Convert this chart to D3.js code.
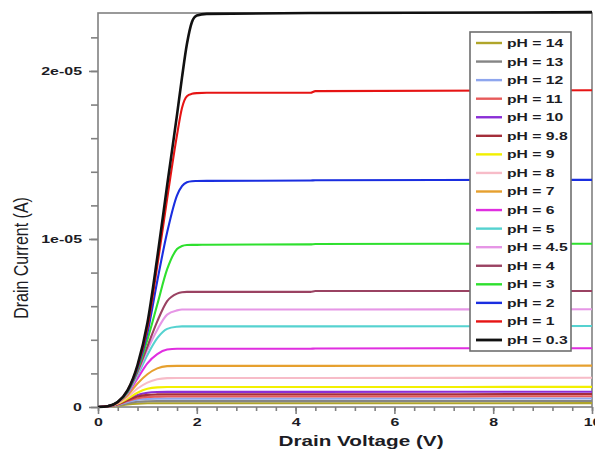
<!DOCTYPE html>
<html>
<head>
<meta charset="utf-8">
<script src="https://cdn.jsdelivr.net/npm/d3@7"></script>
<style>
  body { margin: 0; background: #fff; }
  svg { display: block; font-family: "Liberation Sans", Arial, sans-serif; }
</style>
</head>
<body>
<svg id="chart" width="595" height="452"></svg>
<script>
// drain voltage grid (V) the curves were read at
const vd = [0, 0.2, 0.4, 0.6, 0.8, 1.0, 1.2, 1.4, 1.6, 1.7, 1.8, 1.9, 2.0, 2.2, 4.3, 4.4, 10];

// legend order, top to bottom
const phLabels = ["14", "13", "12", "11", "10", "9.8", "9", "8", "7", "6", "5", "4.5", "4", "3", "2", "1", "0.3"];
const phColors = ["#b0a52a", "#858585", "#8ea6ee", "#e75a5a", "#8b2fd6", "#a42e3a", "#f2f000", "#f7bcc8", "#e6a02e",
                  "#e02ee0", "#55d2d0", "#e696e6", "#9a4262", "#2ee02e", "#1a2ee0", "#e61414", "#111111"];

// drain current, in uA, at each vd
const idPH14  = [0, 0.01, 0.07, 0.15, 0.2, 0.22, 0.22, 0.22, 0.22, 0.22, 0.22, 0.22, 0.22, 0.22, 0.22, 0.22, 0.23];
const idPH13  = [0, 0.02, 0.1, 0.22, 0.31, 0.34, 0.35, 0.35, 0.35, 0.35, 0.35, 0.35, 0.35, 0.35, 0.35, 0.35, 0.36];
const idPH12  = [0, 0.02, 0.12, 0.3, 0.43, 0.48, 0.5, 0.5, 0.5, 0.5, 0.5, 0.5, 0.5, 0.5, 0.5, 0.5, 0.51];
const idPH11  = [0, 0.03, 0.15, 0.35, 0.52, 0.6, 0.62, 0.63, 0.63, 0.63, 0.63, 0.63, 0.63, 0.63, 0.63, 0.63, 0.64];
const idPH10  = [0, 0.03, 0.18, 0.45, 0.72, 0.85, 0.89, 0.9, 0.9, 0.9, 0.9, 0.9, 0.9, 0.9, 0.9, 0.9, 0.91];
const idPH98  = [0, 0.03, 0.17, 0.4, 0.62, 0.72, 0.75, 0.76, 0.76, 0.76, 0.76, 0.76, 0.76, 0.76, 0.76, 0.76, 0.77];
const idPH9   = [0, 0.03, 0.2, 0.5, 0.85, 1.08, 1.17, 1.19, 1.19, 1.19, 1.19, 1.19, 1.19, 1.19, 1.19, 1.19, 1.2];
const idPH8   = [0, 0.04, 0.22, 0.6, 1.1, 1.45, 1.65, 1.72, 1.73, 1.73, 1.73, 1.73, 1.73, 1.73, 1.73, 1.73, 1.74];
const idPH7   = [0, 0.04, 0.25, 0.7, 1.4, 1.95, 2.3, 2.43, 2.45, 2.45, 2.45, 2.45, 2.45, 2.45, 2.45, 2.45, 2.46];
const idPH6   = [0, 0.04, 0.28, 0.8, 1.7, 2.6, 3.15, 3.42, 3.47, 3.47, 3.47, 3.47, 3.47, 3.47, 3.47, 3.48, 3.5];
const idPH5   = [0, 0.05, 0.3, 0.85, 1.9, 3.1, 4.1, 4.65, 4.78, 4.8, 4.8, 4.8, 4.8, 4.8, 4.8, 4.8, 4.82];
const idPH45  = [0, 0.05, 0.3, 0.85, 2.0, 3.4, 4.6, 5.5, 5.75, 5.8, 5.8, 5.8, 5.8, 5.8, 5.8, 5.8, 5.82];
const idPH4   = [0, 0.05, 0.3, 0.9, 2.1, 3.6, 5.1, 6.3, 6.75, 6.83, 6.85, 6.85, 6.85, 6.85, 6.85, 6.9, 6.9];
const idPH3   = [0, 0.05, 0.3, 0.9, 2.2, 4.0, 6.1, 8.2, 9.4, 9.58, 9.64, 9.65, 9.65, 9.66, 9.68, 9.7, 9.72];
const idPH2   = [0, 0.05, 0.3, 0.95, 2.3, 4.4, 7.5, 10.4, 12.6, 13.15, 13.38, 13.44, 13.45, 13.46, 13.48, 13.5, 13.52];
const idPH1   = [0, 0.05, 0.3, 1.0, 2.4, 4.7, 8.4, 12.4, 16.2, 17.8, 18.5, 18.64, 18.68, 18.7, 18.7, 18.8, 18.85];
const idPH03  = [0, 0.05, 0.3, 1.0, 2.5, 5.0, 8.9, 13.2, 17.4, 19.6, 21.6, 22.9, 23.3, 23.4, 23.45, 23.45, 23.5];

const series = [idPH14, idPH13, idPH12, idPH11, idPH10, idPH98, idPH9, idPH8, idPH7,
                idPH6, idPH5, idPH45, idPH4, idPH3, idPH2, idPH1, idPH03];

const xTicks = [0, 2, 4, 6, 8, 10];
const yTicks = [0, 1e-5, 2e-5];
const yTickLabels = ["0", "1e-05", "2e-05"];

const svg = d3.select("#chart");
const axisColor = "#808080";
const inkColor = "#1c1c24";

const x = d3.scaleLinear().domain([0, 10]).range([98, 592]);
const y = d3.scaleLinear().domain([0, 2.345e-5]).range([407, 13]);

// frame
svg.append("rect")
  .attr("x", x(0)).attr("y", y.range()[1])
  .attr("width", x(10) - x(0)).attr("height", y(0) - y.range()[1])
  .attr("fill", "none").attr("stroke", axisColor).attr("stroke-width", 1.6);

// curves
const line = d3.line()
  .x((d, i) => x(vd[i]))
  .y(d => y(d * 1e-6))
  .curve(d3.curveMonotoneX);

svg.append("g").selectAll("path")
  .data(series)
  .join("path")
    .attr("d", line)
    .attr("fill", "none")
    .attr("stroke", (d, i) => phColors[i])
    .attr("stroke-width", (d, i) => i === series.length - 1 ? 2.6 : 2.1)
    .attr("stroke-linejoin", "round");

// x axis: minor then major
const gxMinor = svg.append("g").attr("transform", `translate(0,${y(0)})`)
  .call(d3.axisBottom(x).tickValues(d3.range(0, 10.01, 0.4)).tickSize(4).tickFormat(""));
const gx = svg.append("g").attr("transform", `translate(0,${y(0)})`)
  .call(d3.axisBottom(x).tickValues(xTicks).tickSize(7).tickFormat(d3.format("d")));

// y axis
const gyMinor = svg.append("g").attr("transform", `translate(${x(0)},0)`)
  .call(d3.axisLeft(y).tickValues(d3.range(0, 2.3e-5, 2e-6)).tickSize(7).tickFormat(""));
const gy = svg.append("g").attr("transform", `translate(${x(0)},0)`)
  .call(d3.axisLeft(y).tickValues(yTicks).tickSize(9).tickFormat((d, i) => yTickLabels[i]));

[gxMinor, gx, gyMinor, gy].forEach(g => {
  g.select(".domain").remove();
  g.selectAll("line").attr("stroke", axisColor).attr("stroke-width", 1.6);
});

gx.selectAll("text")
  .attr("y", 0).attr("dy", 0)
  .attr("transform", "translate(0,19) scale(1.45,1)")
  .attr("font-size", 11).attr("font-weight", "bold").attr("fill", inkColor);

gy.selectAll("text")
  .attr("x", 0).attr("dy", "0.36em")
  .attr("transform", "translate(-16,0) scale(1.45,1)")
  .attr("font-size", 11).attr("font-weight", "bold").attr("fill", inkColor);

// axis titles
svg.append("text")
  .attr("transform", "translate(361,446) scale(1.38,1)")
  .attr("text-anchor", "middle")
  .attr("font-size", 15).attr("font-weight", "bold").attr("fill", inkColor)
  .text("Drain Voltage (V)");

svg.append("text")
  .attr("transform", "translate(28,258) rotate(-90) scale(1,1.3)")
  .attr("text-anchor", "middle")
  .attr("font-size", 16).attr("fill", inkColor)
  .text("Drain Current (A)");

// legend
const legend = svg.append("g");
legend.append("rect")
  .attr("x", 470).attr("y", 32).attr("width", 101).attr("height", 319)
  .attr("fill", "#fff").attr("stroke", "#6e6e6e").attr("stroke-width", 1.6);

const rowY = d3.scaleLinear().domain([0, phLabels.length - 1]).range([43, 340]);
const rows = legend.selectAll("g.row")
  .data(phLabels)
  .join("g")
    .attr("class", "row")
    .attr("transform", (d, i) => `translate(0,${rowY(i)})`);

rows.append("line")
  .attr("x1", 476).attr("x2", 502)
  .attr("stroke", (d, i) => phColors[i])
  .attr("stroke-width", (d, i) => i === phLabels.length - 1 ? 2.8 : 2.4);

rows.append("text")
  .attr("transform", "translate(507,0) scale(1.43,1)")
  .attr("dy", "0.36em")
  .attr("font-size", 11).attr("font-weight", "bold").attr("fill", inkColor)
  .text(d => "pH = " + d);
</script>
</body>
</html>
